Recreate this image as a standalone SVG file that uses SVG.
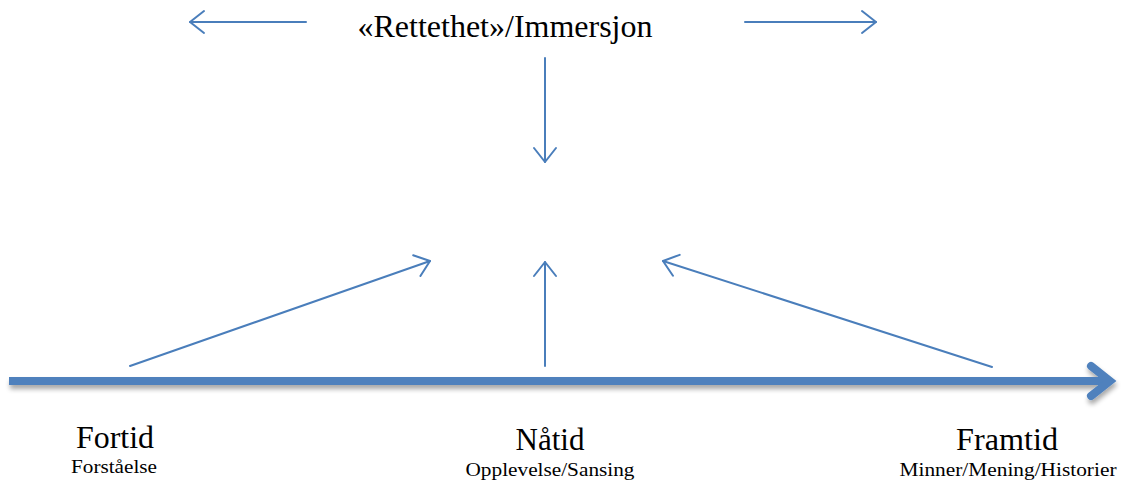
<svg xmlns="http://www.w3.org/2000/svg" width="1121" height="484" viewBox="0 0 1121 484">
<style>
.c{stroke:#4a7ebb;stroke-width:2;fill:none;stroke-linecap:round;stroke-linejoin:round}
.t{font-family:"Liberation Serif","Times New Roman",serif;fill:#000;text-anchor:middle}
.big{font-size:31px}
.sm{font-size:19px}
</style>
<defs>
<marker id="oa" markerWidth="12" markerHeight="12" refX="11" refY="6" orient="auto" markerUnits="userSpaceOnUse" viewBox="0 0 12 12" overflow="visible">
<path d="M-3,-5 L11,6 L-3,17" fill="none" stroke="#4a7ebb" stroke-width="2" stroke-linecap="round" stroke-linejoin="round"/>
</marker>
<filter id="sh" x="-5%" y="-100%" width="110%" height="300%">
<feGaussianBlur in="SourceAlpha" stdDeviation="2.5"/>
<feOffset dx="1" dy="4" result="b"/>
<feComponentTransfer><feFuncA type="linear" slope="0.35"/></feComponentTransfer>
<feMerge><feMergeNode/><feMergeNode in="SourceGraphic"/></feMerge>
</filter>
</defs>
<rect width="1121" height="484" fill="#fff"/>
<g id="connectors">
<line class="c" x1="306" y1="22" x2="190" y2="22" marker-end="url(#oa)"/>
<line class="c" x1="745" y1="22" x2="876" y2="22" marker-end="url(#oa)"/>
<line class="c" x1="545" y1="58" x2="545" y2="162" marker-end="url(#oa)"/>
<line class="c" x1="545" y1="366" x2="545" y2="262" marker-end="url(#oa)"/>
<line class="c" x1="130" y1="366" x2="430" y2="261" marker-end="url(#oa)"/>
<line class="c" x1="992" y1="367" x2="663" y2="261" marker-end="url(#oa)"/>
<g id="timeline" filter="url(#sh)">
<line x1="9" y1="381" x2="1108" y2="381" stroke="#4f81bd" stroke-width="8"/>
<path d="M1091,366 L1110,381 L1091,396" fill="none" stroke="#4f81bd" stroke-width="8" stroke-linecap="round" stroke-linejoin="miter"/>
</g>
</g>
<g id="title"><text class="t big" x="505" y="37" textLength="295" lengthAdjust="spacingAndGlyphs">«Rettethet»/Immersjon</text></g>
<g id="fortid">
<text class="t big" x="115" y="448" textLength="78" lengthAdjust="spacingAndGlyphs">Fortid</text>
<text class="t sm" x="114" y="473" textLength="86" lengthAdjust="spacingAndGlyphs">Forståelse</text>
</g>
<g id="natid">
<text class="t big" x="550" y="450" textLength="69" lengthAdjust="spacingAndGlyphs">Nåtid</text>
<text class="t sm" x="550" y="476" textLength="169" lengthAdjust="spacingAndGlyphs">Opplevelse/Sansing</text>
</g>
<g id="framtid">
<text class="t big" x="1007" y="450" textLength="102" lengthAdjust="spacingAndGlyphs">Framtid</text>
<text class="t sm" x="1008" y="476" textLength="217" lengthAdjust="spacingAndGlyphs">Minner/Mening/Historier</text>
</g>
</svg>
